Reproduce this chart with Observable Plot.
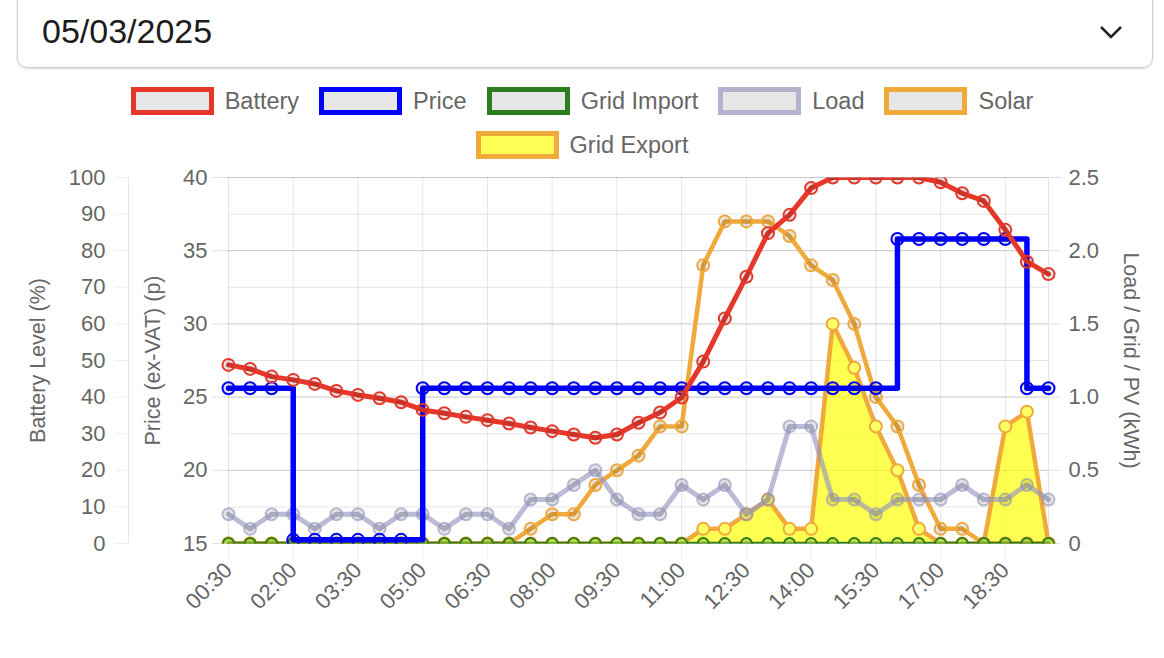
<!DOCTYPE html>
<html><head><meta charset="utf-8">
<script src="https://cdn.jsdelivr.net/npm/d3@7"></script>
<script src="https://cdn.jsdelivr.net/npm/@observablehq/plot@0.6"></script>
<style>
html,body{margin:0;padding:0;background:#fff;width:1164px;height:658px;overflow:hidden;font-family:"Liberation Sans",Arial,Helvetica,sans-serif;}
#select{position:absolute;left:17px;top:-14px;width:1136px;height:82px;box-sizing:border-box;border:1.5px solid #cfcfcf;border-radius:10px;box-shadow:0 1px 2px rgba(0,0,0,0.15);}
#select .val{position:absolute;left:24px;top:24px;font-size:34px;color:#1c1c1c;line-height:40px;}
#select svg{position:absolute;left:1081px;top:38px;}
#legend{position:absolute;left:0;top:87px;width:1164px;}
.row{display:flex;justify-content:center;align-items:center;height:28px;margin-bottom:16px;}
.item{display:flex;align-items:center;margin:0 10px;}
.box{width:83px;height:28px;box-sizing:border-box;border:5px solid;background:#e6e6e6;margin-right:11px;}
.lbl{font-size:23.5px;color:#666;}
#chart{position:absolute;left:0;top:160px;}
</style></head>
<body>
<div id="select"><div class="val">05/03/2025</div>
<svg width="24" height="14"><polyline points="2,2 12,12 22,2" fill="none" stroke="#222" stroke-width="2.5"/></svg></div>
<div id="legend"></div>
<div id="chart"></div>
<script>
// ---- data ----
const times = ["00:30","01:00","01:30","02:00","02:30","03:00","03:30","04:00","04:30","05:00",
  "05:30","06:00","06:30","07:00","07:30","08:00","08:30","09:00","09:30","10:00",
  "10:30","11:00","11:30","12:00","12:30","13:00","13:30","14:00","14:30","15:00",
  "15:30","16:00","16:30","17:00","17:30","18:00","18:30","19:00","19:30"];
const xTickLabels = ["00:30","02:00","03:30","05:00","06:30","08:00","09:30","11:00","12:30","14:00","15:30","17:00","18:30"];

const battery = [48.8,47.7,45.6,44.7,43.6,41.7,40.6,39.7,38.6,36.5,
  35.6,34.6,33.7,32.8,31.7,30.7,29.8,28.9,29.8,33,
  35.8,39.9,49.7,61.5,72.9,84.8,89.8,97.1,100,100,
  100,100,100,98.7,95.7,93.6,85.7,77,73.6];
const price = [25.6,25.6,25.6,15.25,15.25,15.25,15.25,15.25,15.25,25.6,
  25.6,25.6,25.6,25.6,25.6,25.6,25.6,25.6,25.6,25.6,
  25.6,25.6,25.6,25.6,25.6,25.6,25.6,25.6,25.6,25.6,
  25.6,35.8,35.8,35.8,35.8,35.8,35.8,25.6,25.6];
const gridImport = [0,0,0,0,0,0,0,0,0,0, 0,0,0,0,0,0,0,0,0,0, 0,0,0,0,0,0,0,0,0,0, 0,0,0,0,0,0,0,0,0];
const load = [0.2,0.1,0.2,0.2,0.1,0.2,0.2,0.1,0.2,0.2,
  0.1,0.2,0.2,0.1,0.3,0.3,0.4,0.5,0.3,0.2,
  0.2,0.4,0.3,0.4,0.2,0.3,0.8,0.8,0.3,0.3,
  0.2,0.3,0.3,0.3,0.4,0.3,0.3,0.4,0.3];
const solar = [0,0,0,0,0,0,0,0,0,0,
  0,0,0,0,0.1,0.2,0.2,0.4,0.5,0.6,
  0.8,0.8,1.9,2.2,2.2,2.2,2.1,1.9,1.8,1.5,
  1.0,0.8,0.4,0.1,0.1,0,0,0,0];
const gridExport = [0,0,0,0,0,0,0,0,0,0,
  0,0,0,0,0,0,0,0,0,0,
  0,0,0.1,0.1,0.2,0.3,0.1,0.1,1.5,1.2,
  0.8,0.5,0.1,0,0,0,0.8,0.9,0];

const batteryTicks = [0,10,20,30,40,50,60,70,80,90,100];
const priceTicks = [15,20,25,30,35,40];
const kwhTicks = [0,0.5,1.0,1.5,2.0,2.5];
const kwhTickLabels = ["0","0.5","1.0","1.5","2.0","2.5"];

const seriesNames = ["Battery","Price","Grid Import","Load","Solar","Grid Export"];
const seriesColors = ["#e6372b","#0000ff","#2e7d1e","rgba(150,150,190,0.65)","#f0a93b","#f0a93b"];
const seriesFills = ["#e6e6e6","#e6e6e6","#e6e6e6","#e6e6e6","#e6e6e6","#ffff55"];

// ---- legend ----
const legend = document.getElementById("legend");
[[0,1,2,3,4],[5]].forEach(idx => {
  const row = document.createElement("div"); row.className = "row";
  idx.forEach(i => {
    const it = document.createElement("div"); it.className = "item";
    const b = document.createElement("div"); b.className = "box";
    b.style.borderColor = seriesColors[i]; b.style.background = seriesFills[i];
    const l = document.createElement("span"); l.className = "lbl"; l.textContent = seriesNames[i];
    it.appendChild(b); it.appendChild(l); row.appendChild(it);
  });
  legend.appendChild(row);
});

// ---- shared y (battery %) mapping for other axes ----
const pToY = p => (p - 15) * 4;     // price 15..40 -> 0..100
const kToY = k => k * 40;           // kWh 0..2.5 -> 0..100

const rows = times.map((t, i) => ({
  i, t, battery: battery[i], price: pToY(price[i]), imp: kToY(gridImport[i]),
  load: kToY(load[i]), solar: kToY(solar[i]), exp: kToY(gridExport[i])
}));
const xTickIdx = xTickLabels.map(l => times.indexOf(l));
const lastIdx = times.length - 1;

const C = seriesColors;
const ptFill = "rgba(0,0,0,0.1)";

const chart = Plot.plot({
  width: 1164, height: 498,
  marginLeft: 228, marginRight: 116, marginTop: 17, marginBottom: 115,
  style: {fontFamily: "'Liberation Sans', Arial, Helvetica, sans-serif", fontSize: "22px", color: "#666", background: "transparent", overflow: "visible"},
  x: {type: "linear", domain: [0, lastIdx]},
  y: {domain: [0, 100]},
  marks: [
    Plot.gridY({ticks: batteryTicks, stroke: "#000", strokeOpacity: 0.1}),
    Plot.gridY({ticks: priceTicks.map(pToY), stroke: "#000", strokeOpacity: 0.13}),
    Plot.gridX({ticks: xTickIdx, stroke: "#000", strokeOpacity: 0.1}),
    Plot.ruleX([lastIdx], {stroke: "#000", strokeOpacity: 0.1}),
    Plot.ruleX([0], {dx: -100, stroke: "#000", strokeOpacity: 0.1}),
    Plot.axisY({anchor: "left", ticks: batteryTicks, dx: -100, tickSize: 13, tickPadding: 10, label: null, strokeOpacity: 0.1}),
    Plot.axisY({anchor: "left", ticks: priceTicks.map(pToY), tickFormat: d => String(d / 4 + 15), tickSize: 16, tickPadding: 5, label: null, strokeOpacity: 0.2}),
    Plot.axisY({anchor: "right", ticks: kwhTicks.map(kToY), tickFormat: d => kwhTickLabels[kwhTicks.indexOf(d / 40)], tickSize: 12, tickPadding: 8, label: null, strokeOpacity: 0.2}),
    Plot.axisX({ticks: xTickIdx, tickFormat: i => times[i], tickRotate: -45, tickSize: 17, tickPadding: 6, label: null, strokeOpacity: 0.1, fontSize: 22}),
    Plot.text(["Battery Level (%)"], {frameAnchor: "left", text: d => d, rotate: -90, dx: -190, textAnchor: "middle", fontSize: 21.5, fill: "#666"}),
    Plot.text(["Price (ex-VAT) (p)"], {frameAnchor: "left", text: d => d, rotate: -90, dx: -75, textAnchor: "middle", fontSize: 21.5, fill: "#666"}),
    Plot.text(["Load / Grid / PV (kWh)"], {frameAnchor: "right", text: d => d, rotate: 90, dx: 82, textAnchor: "middle", fontSize: 21.5, fill: "#666"}),

    // Grid Export (drawn first / bottom)
    Plot.areaY(rows, {x: "i", y: "exp", fill: "rgba(255,255,0,0.68)"}),
    Plot.line(rows, {x: "i", y: "exp", stroke: C[5], strokeWidth: 4.5}),
    Plot.dot(rows, {x: "i", y: "exp", r: 6, fill: "#ffff66", stroke: C[5], strokeWidth: 2}),
    // Solar
    Plot.line(rows, {x: "i", y: "solar", stroke: C[4], strokeWidth: 4.5}),
    Plot.dot(rows, {x: "i", y: "solar", r: 6, fill: ptFill, stroke: C[4], strokeWidth: 2}),
    // Load
    Plot.line(rows, {x: "i", y: "load", stroke: C[3], strokeWidth: 5}),
    Plot.dot(rows, {x: "i", y: "load", r: 6, fill: ptFill, stroke: C[3], strokeWidth: 2}),
    // Grid Import
    Plot.line(rows, {x: "i", y: "imp", stroke: C[2], strokeWidth: 3.5}),
    Plot.dot(rows, {x: "i", y: "imp", r: 5.5, fill: "rgba(160,200,60,0.6)", stroke: C[2], strokeWidth: 2}),
    // Price
    Plot.line(rows, {x: "i", y: "price", curve: "step-after", stroke: C[1], strokeWidth: 5.5}),
    Plot.dot(rows, {x: "i", y: "price", r: 6, fill: ptFill, stroke: C[1], strokeWidth: 2}),
    // Battery (top)
    Plot.line(rows, {x: "i", y: "battery", stroke: C[0], strokeWidth: 5}),
    Plot.dot(rows, {x: "i", y: "battery", r: 6, fill: ptFill, stroke: C[0], strokeWidth: 2})
  ]
});

// clip series vertically only (to the y range of the frame), like the original chart
const yr = chart.scale("y").range;
const svg = d3.select(chart);
svg.insert("defs", ":first-child").append("clipPath").attr("id", "vclip")
  .append("rect").attr("x", 0).attr("width", 1164)
  .attr("y", Math.min(...yr)).attr("height", Math.abs(yr[0] - yr[1]));
svg.selectAll('g[aria-label="line"], g[aria-label="dot"], g[aria-label="area"]').attr("clip-path", "url(#vclip)");

document.getElementById("chart").appendChild(chart);
</script>
</body></html>
